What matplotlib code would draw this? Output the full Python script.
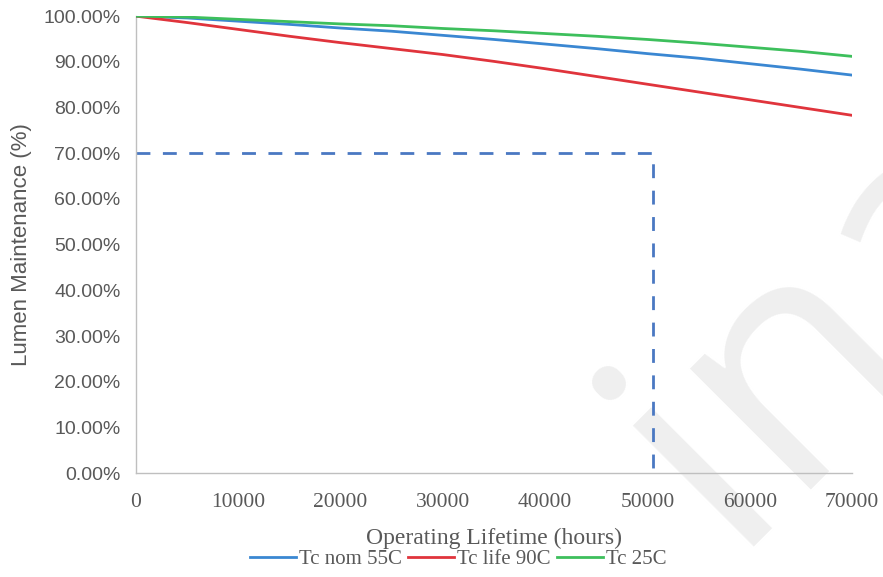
import matplotlib.pyplot as plt
from matplotlib.ticker import FuncFormatter

# hours on the x axis
hours = [0, 5000, 10000, 15000, 20000, 25000, 30000, 35000, 40000, 45000, 50000, 55000, 60000, 65000, 70000]

# lumen maintenance in %
tc_nom_55 = [100.0, 99.6, 98.9, 98.2, 97.4, 96.7, 95.8, 94.9, 93.9, 92.9, 91.8, 90.8, 89.6, 88.4, 87.1]
tc_life_90 = [100.0, 98.6, 97.1, 95.6, 94.2, 92.9, 91.6, 90.1, 88.5, 86.8, 85.1, 83.4, 81.7, 80.0, 78.3]
tc_25 = [100.0, 99.8, 99.3, 98.8, 98.3, 97.9, 97.3, 96.8, 96.2, 95.6, 94.9, 94.1, 93.2, 92.3, 91.2]

# L70 guide line
l70_level = 70
l70_hours = 50500

yticks = [0, 10, 20, 30, 40, 50, 60, 70, 80, 90, 100]
xticks = [0, 10000, 20000, 30000, 40000, 50000, 60000, 70000]

SERIF = "Liberation Serif"
SANS = "Liberation Sans"
GREY = "#595959"

fig = plt.figure(figsize=(8.83, 5.77), dpi=100)
ax = fig.add_axes([0.154, 0.180, 0.811, 0.792])
ax.patch.set_alpha(0)

# faint watermark behind everything
fig.text(0.94, 0.43, "ina", fontsize=230, color="#efefef", rotation=45,
         ha="center", va="center", family="Open Sans", zorder=-10)

ax.plot(hours, tc_nom_55, color="#3a87d2", lw=2.0, label="Tc nom 55C", zorder=3)
ax.plot(hours, tc_life_90, color="#e0343c", lw=2.0, label="Tc life 90C", zorder=3)
ax.plot(hours, tc_25, color="#3dbf5c", lw=2.0, label="Tc 25C", zorder=3)

# dashed L70 box
ax.plot([0, l70_hours, l70_hours], [l70_level, l70_level, 0], color="#4a78c2",
        lw=2.0, dashes=(5, 4.5), zorder=2)

ax.set_xlim(0, 70000)
ax.set_ylim(0, 100)
ax.set_xticks(xticks)
ax.set_yticks(yticks)
ax.yaxis.set_major_formatter(FuncFormatter(lambda v, p: "%.2f%%" % v))

for s in ["top", "right"]:
    ax.spines[s].set_visible(False)
for s in ["left", "bottom"]:
    ax.spines[s].set_color("#bfbfbf")
    ax.spines[s].set_linewidth(1.0)

ax.tick_params(axis="both", length=0)
ax.tick_params(axis="y", pad=11, labelsize=14, labelcolor=GREY)
ax.tick_params(axis="x", pad=14, labelsize=15.5, labelcolor=GREY)
for lab in ax.get_yticklabels():
    lab.set_family(SANS)
for lab in ax.get_xticklabels():
    lab.set_family(SERIF)

ax.set_ylabel("Lumen Maintenance (%)", fontsize=16, color=GREY, family=SANS, labelpad=8)
ax.set_xlabel("Operating Lifetime (hours)", fontsize=17, color=GREY,
              family=SERIF, labelpad=12)

leg = fig.legend(loc="center", bbox_to_anchor=(0.519, 0.030), ncol=3, frameon=False,
                 prop={"family": SERIF, "size": 15},
                 handlelength=2.2, handletextpad=0.15, columnspacing=0.3)
for t in leg.get_texts():
    t.set_color(GREY)

fig.savefig("out.png", dpi=100)
